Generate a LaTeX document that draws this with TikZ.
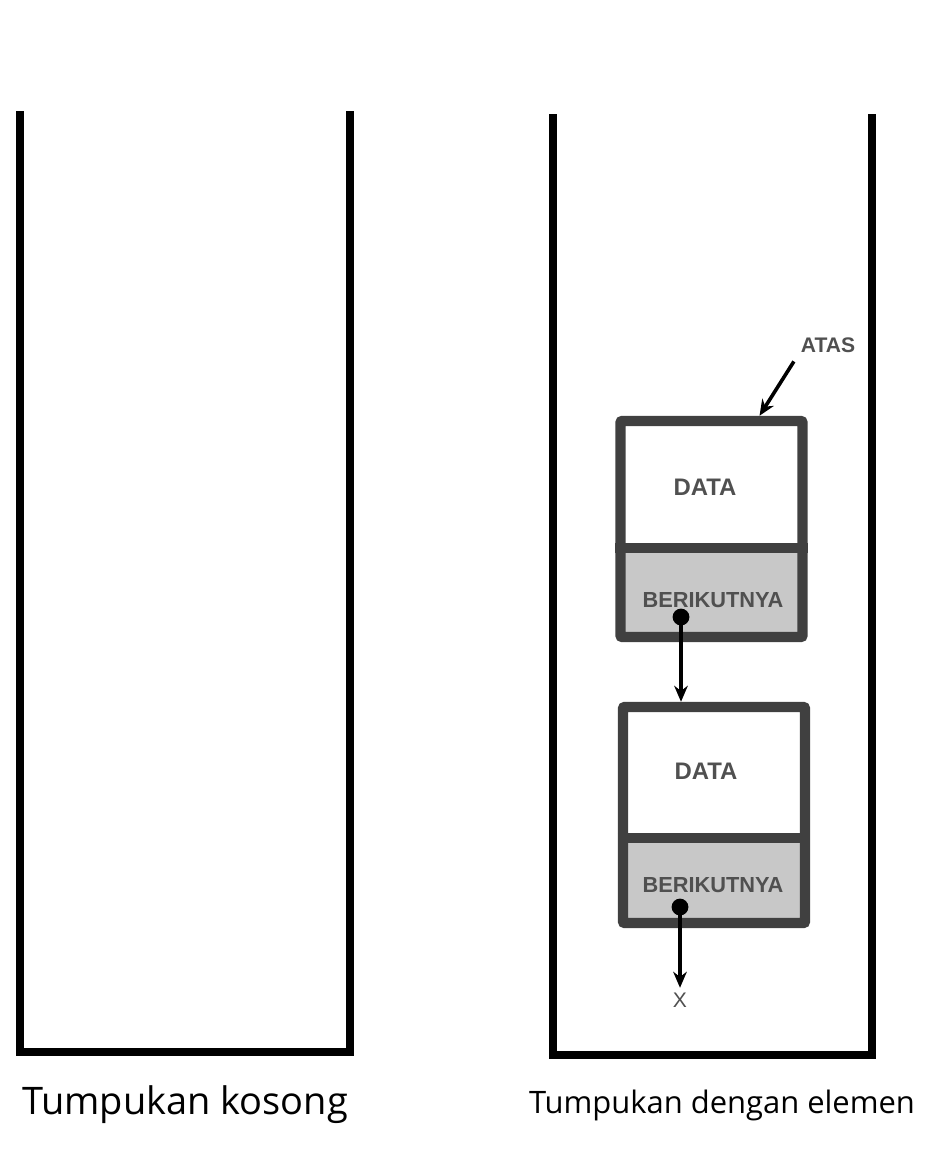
\documentclass[tikz,border=0pt]{standalone}
\usepackage{fontspec}
\setmainfont{Liberation Sans}
\newfontfamily\capfont{Open Sans}
\usetikzlibrary{arrows.meta}
\definecolor{boxgray}{HTML}{404040}
\definecolor{nextgray}{HTML}{C8C8C8}
\definecolor{txtgray}{HTML}{505050}
\tikzset{
  wall/.style={line width=2mm,line cap=rect},
  cell/.style={draw=boxgray,line width=2.6mm,rounded corners=0.5mm,minimum width=4.55cm,inner sep=0pt},
  datatxt/.style={text=txtgray,font=\bfseries\fontsize{17}{17}\selectfont},
  nexttxt/.style={text=txtgray,font=\bfseries\fontsize{15.5}{15}\selectfont},
  link/.style={line width=0.9mm,-{Stealth[length=4mm,width=3.4mm]}},
  dot/.style={circle,fill=black,inner sep=0pt,minimum size=4.2mm},
  caption/.style={font=\capfont}
}
\begin{document}
\begin{tikzpicture}[x=0.025cm,y=-0.025cm]
      \useasboundingbox (0,0) rectangle (928,1152);
      % empty stack
      \draw[wall] (20,115)--(20,1052)--(350,1052)--(350,115);
      \node[caption,font=\capfont\fontsize{27}{27}\selectfont] (capa) at (185,1105) {Tumpukan kosong};
      % stack with elements
      \draw[wall] (553,118)--(553,1055)--(872,1055)--(872,118);
      \node[caption,font=\capfont\fontsize{22}{22}\selectfont] (capb) at (722,1105) {Tumpukan dengan elemen};
      % first element
      \fill[nextgray] (620,548) rectangle (803,637);
      \node[cell,minimum height=5.4cm] (top) at (711.5,529) {};
      \draw[boxgray,line width=2.6mm] (top.west|-0,548)--(top.east|-0,548);
      \node[datatxt] (data1) at (705,487) {DATA};
      \node[nexttxt] (next1) at (713,600) {BERIKUTNYA};
      \node[dot] (p1) at (681,617) {};
      % second element
      \fill[nextgray] (623,838) rectangle (805,923);
      \node[cell,minimum height=5.4cm] (bot) at (714,815) {};
      \draw[boxgray,line width=2.6mm] (bot.west|-0,838)--(bot.east|-0,838);
      \node[datatxt] (data2) at (706,771) {DATA};
      \node[nexttxt] (next2) at (713,885) {BERIKUTNYA};
      \node[dot] (p2) at (680,907) {};
      \node[text=txtgray,font=\fontsize{15}{15}\selectfont] (nil) at (680,1000) {X};
      % pointers
      \draw[link] (p1.center)--(bot.north-|p1);
      \draw[link] (p2.center)--(nil.north);
      \node[text=txtgray,font=\bfseries\fontsize{15}{15}\selectfont] (atas) at (828,345) {ATAS};
      \draw[link] (atas.south west)++(-2,4) coordinate (a0) (a0)--([xshift=1.2cm]top.north);
\end{tikzpicture}
\end{document}
